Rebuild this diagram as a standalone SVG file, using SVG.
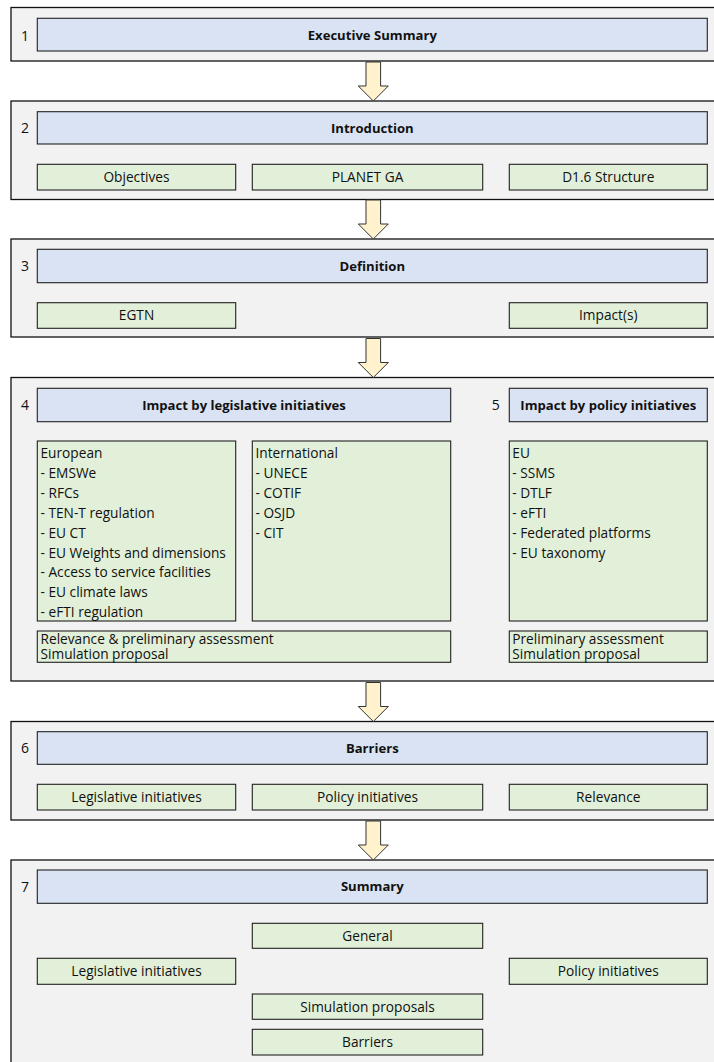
<svg xmlns="http://www.w3.org/2000/svg" width="714" height="1062" viewBox="0 0 714 1062">
  <style>
    .sec { fill: #f2f2f2; stroke: #111; stroke-width: 1.3; }
    .hdr { fill: #dae3f3; stroke: #222; stroke-width: 1.1; }
    .box { fill: #e2f0d9; stroke: #222; stroke-width: 1.1; }
    .arrow { fill: #fff2cc; stroke: #333; stroke-width: 1; }
    text { font-family: "Open Sans", "Liberation Sans", sans-serif; font-size: 13.7px; fill: #111; }
    .b { font-weight: bold; font-size: 13.1px; text-anchor: middle; }
    .c { text-anchor: middle; }
    .n { text-anchor: middle; font-size: 14px; }
  </style>
  <defs>
    <!-- block arrow, tip at origin; shaft 24 tall, head 15 tall -->
    <polygon id="down" points="-7.3,-39 7.3,-39 7.3,-15 15,-15 0,0 -15,-15 -7.3,-15 -7.3,-39"/>
  </defs>

  <!-- 1 Executive Summary -->
  <g id="s1">
    <rect class="sec" x="11" y="7.5" width="720" height="53.5"/>
    <text class="n" x="25" y="41">1</text>
    <rect class="hdr" x="37.3" y="18.3" width="670" height="32.7"/>
    <text class="b" x="372.3" y="39.5">Executive Summary</text>
  </g>

  <!-- 2 Introduction -->
  <g id="s2">
    <rect class="sec" x="11" y="101" width="720" height="98.5"/>
    <text class="n" x="25" y="133">2</text>
    <rect class="hdr" x="37.3" y="111.7" width="670" height="32.3"/>
  </g>
  <g id="s2-title"><text class="b" x="372.3" y="132.5">Introduction</text></g>
  <g id="s2-objectives">
    <rect class="box" x="37.3" y="164.3" width="198.4" height="25.7"/>
    <text class="c" x="136.5" y="181.8">Objectives</text>
  </g>
  <g id="s2-planet">
    <rect class="box" x="252.3" y="164.3" width="230.4" height="25.7"/>
    <text class="c" x="367.5" y="181.8">PLANET GA</text>
  </g>
  <g id="s2-structure">
    <rect class="box" x="509.3" y="164.3" width="198" height="25.7"/>
    <text class="c" x="608.3" y="181.8">D1.6 Structure</text>
  </g>

  <!-- 3 Definition -->
  <g id="s3">
    <rect class="sec" x="11" y="239" width="720" height="98"/>
    <text class="n" x="25" y="271">3</text>
    <rect class="hdr" x="37.3" y="249.3" width="670" height="33.4"/>
    <text class="b" x="372.3" y="270.5">Definition</text>
  </g>
  <g id="s3-egtn">
    <rect class="box" x="37.3" y="302.7" width="198.4" height="25.6"/>
    <text class="c" x="136.5" y="320.2">EGTN</text>
  </g>
  <g id="s3-impacts">
    <rect class="box" x="509.3" y="302.7" width="198" height="25.6"/>
    <text class="c" x="608.3" y="320.2">Impact(s)</text>
  </g>

  <!-- 4 / 5 Impact by legislative and policy initiatives -->
  <g id="s4">
    <rect class="sec" x="11" y="377.5" width="720" height="303.5"/>
    <text class="n" x="25" y="410">4</text>
    <rect class="hdr" x="37.3" y="388.3" width="413.4" height="33.4"/>
    <text class="b" x="244" y="409.5">Impact by legislative initiatives</text>
    <text class="n" x="495.7" y="410">5</text>
  </g>
  <g id="s5-title">
    <rect class="hdr" x="509.3" y="388.3" width="198" height="33.4"/>
    <text class="b" x="608.3" y="409.5">Impact by policy initiatives</text>
  </g>
  <g id="s4-european">
    <rect class="box" x="37.3" y="441" width="198.4" height="180"/>
    <text x="40.5" y="458">European</text>
    <text x="40.5" y="477.9">- EMSWe</text>
    <text x="40.5" y="497.8">- RFCs</text>
    <text x="40.5" y="517.7">- TEN-T regulation</text>
    <text x="40.5" y="537.6">- EU CT</text>
    <text x="40.5" y="557.5">- EU Weights and dimensions</text>
    <text x="40.5" y="577.4">- Access to service facilities</text>
    <text x="40.5" y="597.3">- EU climate laws</text>
    <text x="40.5" y="617.2">- eFTI regulation</text>
  </g>
  <g id="s4-international">
    <rect class="box" x="252.3" y="441" width="198.4" height="180"/>
    <text x="255.5" y="458">International</text>
    <text x="255.5" y="477.9">- UNECE</text>
    <text x="255.5" y="497.8">- COTIF</text>
    <text x="255.5" y="517.7">- OSJD</text>
    <text x="255.5" y="537.6">- CIT</text>
  </g>
  <g id="s5-eu">
    <rect class="box" x="509.3" y="441" width="198" height="180"/>
    <text x="512.3" y="458">EU</text>
    <text x="512.3" y="477.9">- SSMS</text>
    <text x="512.3" y="497.8">- DTLF</text>
    <text x="512.3" y="517.7">- eFTI</text>
    <text x="512.3" y="537.6">- Federated platforms</text>
    <text x="512.3" y="557.5">- EU taxonomy</text>
  </g>
  <g id="s4-assessment">
    <rect class="box" x="37.3" y="631" width="413.4" height="31.3"/>
    <text x="40.5" y="643.7">Relevance &amp; preliminary assessment</text>
    <text x="40.5" y="659.3">Simulation proposal</text>
  </g>
  <g id="s5-assessment">
    <rect class="box" x="509.3" y="631" width="198" height="31.3"/>
    <text x="512.3" y="643.7">Preliminary assessment</text>
    <text x="512.3" y="659.3">Simulation proposal</text>
  </g>

  <!-- 6 Barriers -->
  <g id="s6">
    <rect class="sec" x="11" y="721.5" width="720" height="98.5"/>
    <text class="n" x="25" y="753">6</text>
    <rect class="hdr" x="37.3" y="731.7" width="670" height="32.6"/>
    <text class="b" x="372.3" y="752.5">Barriers</text>
  </g>
  <g id="s6-legislative">
    <rect class="box" x="37.3" y="784.3" width="198.4" height="25.7"/>
    <text class="c" x="136.5" y="801.8">Legislative initiatives</text>
  </g>
  <g id="s6-policy">
    <rect class="box" x="252.3" y="784.3" width="230.4" height="25.7"/>
    <text class="c" x="367.5" y="801.8">Policy initiatives</text>
  </g>
  <g id="s6-relevance">
    <rect class="box" x="509.3" y="784.3" width="198" height="25.7"/>
    <text class="c" x="608.3" y="801.8">Relevance</text>
  </g>

  <!-- 7 Summary -->
  <g id="s7">
    <rect class="sec" x="11" y="860" width="720" height="220"/>
    <text class="n" x="25" y="892">7</text>
    <rect class="hdr" x="37.3" y="870" width="670" height="33.3"/>
    <text class="b" x="372.3" y="891">Summary</text>
  </g>
  <g id="s7-general">
    <rect class="box" x="252.3" y="923.3" width="230.4" height="25"/>
    <text class="c" x="367.5" y="940.5">General</text>
  </g>
  <g id="s7-legislative">
    <rect class="box" x="37.3" y="958.3" width="198.4" height="26"/>
    <text class="c" x="136.5" y="976">Legislative initiatives</text>
  </g>
  <g id="s7-policy">
    <rect class="box" x="509.3" y="958.3" width="198" height="26"/>
    <text class="c" x="608.3" y="976">Policy initiatives</text>
  </g>
  <g id="s7-simulation">
    <rect class="box" x="252.3" y="994" width="230.4" height="25.3"/>
    <text class="c" x="367.5" y="1011.5">Simulation proposals</text>
  </g>
  <g id="s7-barriers">
    <rect class="box" x="252.3" y="1029.3" width="230.4" height="25.7"/>
    <text class="c" x="367.5" y="1046.8">Barriers</text>
  </g>

  <!-- flow arrows between sections -->
  <g id="connectors">
    <use class="arrow" href="#down" x="373.3" y="101"/>
    <use class="arrow" href="#down" x="373.3" y="239"/>
    <use class="arrow" href="#down" x="373.3" y="377.5"/>
    <use class="arrow" href="#down" x="373.3" y="721.5"/>
    <use class="arrow" href="#down" x="373.3" y="860"/>
  </g>
</svg>
